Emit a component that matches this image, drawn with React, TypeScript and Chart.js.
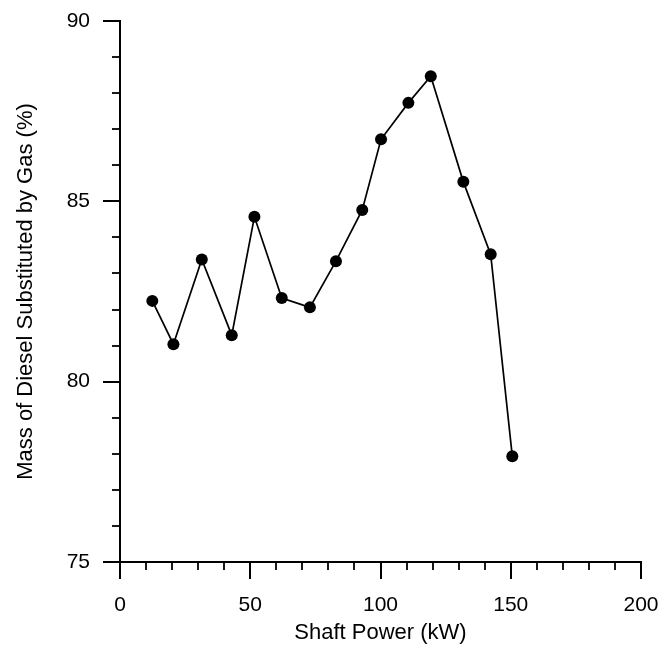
import React, { useEffect, useRef } from "react";
import { Chart, registerables } from "chart.js";

Chart.register(...registerables);

const shaftPower: number[] = [12.4, 20.5, 31.4, 42.9, 51.6, 62.1, 72.9, 82.9, 93.0, 100.2, 110.7, 119.3, 131.8, 142.3, 150.6];
const massSubstituted: number[] = [82.24, 81.04, 83.39, 81.29, 84.57, 82.32, 82.06, 83.34, 84.76, 86.72, 87.73, 88.47, 85.54, 83.53, 77.93];
const xTickValues: number[] = [0, 50, 100, 150, 200];
const yTickValues: number[] = [75, 80, 85, 90];
const xMinorStep = 10;
const yMinorStep = 1;

const FONT = "'Liberation Sans', Arial, sans-serif";

const minorTicks = {
  id: "minorTicks",
  afterDraw(chart: any) {
    const ctx = chart.ctx;
    const xs = chart.scales.x;
    const ys = chart.scales.y;
    const area = chart.chartArea;
    ctx.save();
    ctx.strokeStyle = "#000";
    ctx.lineWidth = 1.8;
    for (let v = xs.min; v <= xs.max + 1e-9; v += xMinorStep) {
      if (xTickValues.includes(Math.round(v))) continue;
      const px = Math.round(xs.getPixelForValue(v));
      ctx.beginPath();
      ctx.moveTo(px, area.bottom);
      ctx.lineTo(px, area.bottom + 8);
      ctx.stroke();
    }
    for (let v = ys.min; v <= ys.max + 1e-9; v += yMinorStep) {
      if (yTickValues.includes(Math.round(v))) continue;
      const py = Math.round(ys.getPixelForValue(v));
      ctx.beginPath();
      ctx.moveTo(area.left, py);
      ctx.lineTo(area.left - 8, py);
      ctx.stroke();
    }
    ctx.restore();
  },
};

export default function App() {
  const ref = useRef<HTMLCanvasElement | null>(null);
  useEffect(() => {
    if (!ref.current) return;
    const chart = new Chart(ref.current, {
      type: "line",
      data: {
        datasets: [
          {
            data: shaftPower.map((x, i) => ({ x, y: massSubstituted[i] })),
            borderColor: "#000",
            backgroundColor: "#000",
            borderWidth: 1.7,
            pointRadius: 6,
            pointBackgroundColor: "#000",
            pointBorderColor: "#000",
            pointBorderWidth: 0,
            tension: 0,
            fill: false,
          },
        ],
      },
      options: {
        responsive: false,
        animation: false,
        layout: { padding: { top: 21, right: 19, left: 0, bottom: 0 } },
        plugins: { legend: { display: false }, tooltip: { enabled: false } },
        scales: {
          x: {
            type: "linear",
            min: 0,
            max: 200,
            afterFit: (s: any) => {
              s.height = 88;
              s.paddingLeft = 0;
              s.paddingRight = 0;
            },
            afterBuildTicks: (s: any) => {
              s.ticks = xTickValues.map((v) => ({ value: v }));
            },
            border: { display: true, color: "#000", width: 2 },
            grid: { display: true, drawOnChartArea: false, drawTicks: true, tickLength: 17, color: "#000", tickColor: "#000", lineWidth: 2 },
            ticks: { color: "#000", font: { family: FONT, size: 21 }, padding: 14, maxRotation: 0 },
            title: { display: true, text: "Shaft Power (kW)", color: "#000", font: { family: FONT, size: 22 }, padding: { top: 4, bottom: 4 } },
          },
          y: {
            type: "linear",
            min: 75,
            max: 90,
            afterFit: (s: any) => {
              s.width = 120;
              s.paddingTop = 0;
              s.paddingBottom = 0;
            },
            afterBuildTicks: (s: any) => {
              s.ticks = yTickValues.map((v) => ({ value: v }));
            },
            border: { display: true, color: "#000", width: 2 },
            grid: { display: true, drawOnChartArea: false, drawTicks: true, tickLength: 17, color: "#000", tickColor: "#000", lineWidth: 2 },
            ticks: { color: "#000", font: { family: FONT, size: 21 }, padding: 13 },
            title: { display: true, text: "Mass of Diesel Substituted by Gas (%)", color: "#000", font: { family: FONT, size: 22 }, padding: { top: 13, bottom: 0 } },
          },
        },
      },
      plugins: [minorTicks],
    });
    return () => chart.destroy();
  }, []);
  return (
    <div style={{ position: "fixed", left: 0, top: 0, width: 660, height: 650, background: "#fff" }}>
      <canvas ref={ref} width={660} height={650} style={{ width: 660, height: 650, display: "block" }} />
    </div>
  );
}
